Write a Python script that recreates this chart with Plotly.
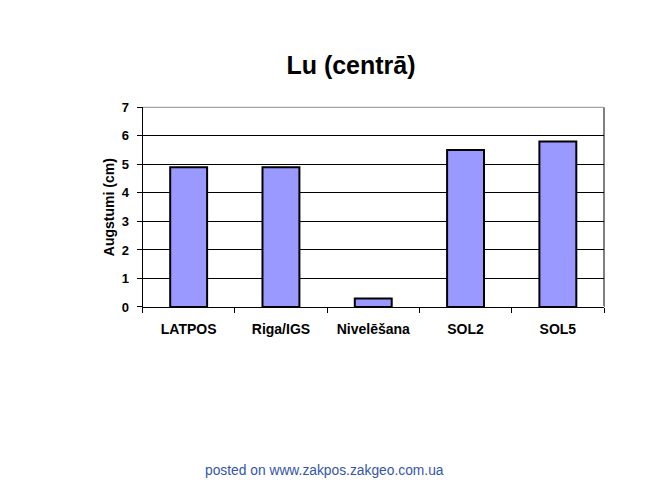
import plotly.graph_objects as go

categories = ["LATPOS", "Riga/IGS", "Nivelēšana", "SOL2", "SOL5"]
values = [4.9, 4.9, 0.3, 5.5, 5.8]
y_ticks = [0, 1, 2, 3, 4, 5, 6, 7]

X0, X1 = 142.5 / 650, 604 / 650
Y0, Y1 = 1 - 309.5 / 488, 1 - 103.5 / 488

fig = go.Figure()
fig.add_trace(go.Bar(
    x=categories, y=values,
    marker=dict(color="#9999FF", line=dict(color="black", width=2)),
    width=0.4,
))

fig.update_layout(
    width=650, height=488,
    paper_bgcolor="white", plot_bgcolor="white",
    margin=dict(l=0, r=0, t=0, b=0),
    showlegend=False,
    font=dict(family="Liberation Sans, Arial, sans-serif", color="black"),
    title=dict(text="<b>Lu (centrā)</b>", x=351/650, xanchor="center",
               y=1-60/488, yanchor="middle", xref="paper", yref="paper",
               font=dict(size=25, color="black")),
    xaxis=dict(domain=[X0, X1], showline=True, linecolor="black", linewidth=1,
               mirror=False, ticks="outside", tickson="boundaries", ticklen=5,
               tickcolor="black", tickfont=dict(size=14, weight="bold"), showgrid=False,
               ticklabelstandoff=9),
    yaxis=dict(domain=[Y0, Y1], range=[0, 7], tickvals=y_ticks,
               showline=True, linecolor="black", linewidth=1, ticks="outside",
               ticklen=5, tickcolor="black", tickfont=dict(size=13, weight="bold"),
               showgrid=True, gridcolor="black", gridwidth=1, ticklabelstandoff=5,
               title=dict(text="<b>Augstumi (cm)</b>", font=dict(size=14), standoff=3)),
)

# gray frame on top/right
fig.add_shape(type="line", xref="paper", yref="paper", x0=X0, x1=X1,
              y0=Y1, y1=Y1, line=dict(color="#909090", width=1), layer="below")
fig.add_shape(type="line", xref="paper", yref="paper", x0=X1, x1=X1,
              y0=Y0, y1=Y1, line=dict(color="#808080", width=2), layer="below")

fig.add_annotation(text="posted on www.zakpos.zakgeo.com.ua", xref="paper", yref="paper",
                   x=324/650, y=1-478/488, showarrow=False, xanchor="center", yanchor="middle",
                   font=dict(size=13.8, color="#3355aa"))

fig.write_html("out.html")
